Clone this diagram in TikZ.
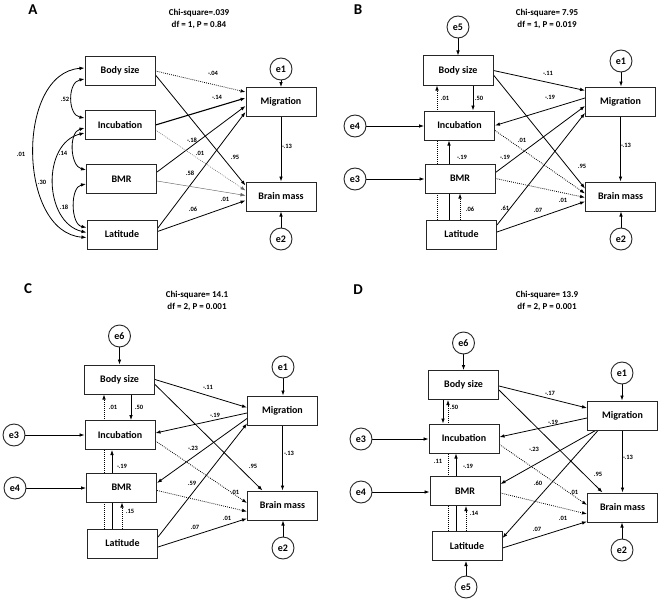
\documentclass[tikz,border=0pt]{standalone}
\usepackage{fontspec}
\setmainfont{Carlito}
\usetikzlibrary{arrows.meta,calc,backgrounds}
\begin{document}
\begin{tikzpicture}[x=1pt,y=-1pt,
  box/.style={draw=black!85, line width=1pt, fill=white, minimum width=70pt, minimum height=29pt, inner sep=0pt, font=\bfseries\fontsize{10}{11}\selectfont},
  err/.style={circle, draw=black!85, line width=0.9pt, fill=white, minimum size=22pt, inner sep=0pt, font=\bfseries\fontsize{10}{11}\selectfont},
  pth/.style={-{Latex[length=5pt,width=3.6pt]}, line width=0.8pt},
  dpth/.style={pth, dash pattern=on 0.8pt off 1.2pt},
  thin gray/.style={pth, line width=0.45pt, black!60},
  cov/.style={{Latex[length=5pt,width=3.6pt]}-{Latex[length=5pt,width=3.6pt]}, line width=0.8pt},
  lab/.style={inner sep=0pt, font=\bfseries\fontsize{6.5}{7}\selectfont},
  chi/.style={align=center, inner sep=0pt, font=\bfseries\fontsize{9}{12}\selectfont},
  letter/.style={inner sep=0pt, font=\bfseries\fontsize{15}{16}\selectfont}]
\useasboundingbox (0,0) rectangle (661,602);

% ================= Panel A =================
\node[letter] (A-let) at (33,10) {A};
\node[chi] (A-chi) at (199,19) {Chi-square=.039\\df = 1, P = 0.84};
\node[box] (A-bs) at (120,71) {Body size};
\node[box] (A-inc) at (120,125) {Incubation};
\node[box] (A-bmr) at (121.5,179) {BMR};
\node[box] (A-lat) at (122,234.5) {Latitude};
\node[box] (A-mig) at (281,102) {Migration};
\node[box] (A-bm) at (281,196.5) {Brain mass};
\node[err] (A-e1) at (281,69) {e1};
\node[err] (A-e2) at (281,239) {e2};
\begin{scope}[on background layer]
\draw[dpth] (A-bs.east) -- ($(A-mig.west)+(0,-10)$);
\draw[pth, line width=1.1pt] (A-inc.east) -- ($(A-mig.west)+(0,-4)$);
\draw[pth] ($(A-bmr.east)+(0,-7)$) -- ($(A-mig.west)+(0,4)$);
\draw[pth] ($(A-lat.east)+(0,-6)$) -- ($(A-mig.west)+(0,10)$);
\draw[pth] ($(A-bs.east)+(0,4)$) -- ($(A-bm.west)+(0,-11)$);
\draw[thin gray, dash pattern=on 0.8pt off 1.2pt, line width=0.6pt] ($(A-inc.east)+(0,5)$) -- ($(A-bm.west)+(0,-6)$);
\draw[thin gray] ($(A-bmr.east)+(0,2)$) -- ($(A-bm.west)+(0,-1)$);
\draw[pth] ($(A-lat.east)+(0,-3)$) -- ($(A-bm.west)+(0,4)$);
\draw[pth] (A-mig.south) -- (A-bm.north);
\draw[pth] (A-e1.south) -- (A-mig.north);
\draw[pth] (A-e2.north) -- (A-bm.south);
\draw[cov] ($(A-bs.west)+(0,-3)$) .. controls +(-69,5) and +(-69,-5) .. ($(A-lat.west)+(0,3)$);
\draw[cov] ($(A-bs.west)+(0,8)$) .. controls +(-17,3) and +(-17,-3) .. ($(A-inc.west)+(0,-7)$);
\draw[cov] ($(A-inc.west)+(0,3)$) .. controls +(-16,4) and +(-16,-4) .. ($(A-bmr.west)+(0,-9)$);
\draw[cov] ($(A-inc.west)+(0,8)$) .. controls +(-43,10) and +(-43,-10) .. ($(A-lat.west)+(0,-2)$);
\draw[cov] ($(A-bmr.west)+(0,5)$) .. controls +(-16,3) and +(-16,-3) .. ($(A-lat.west)+(0,-7)$);
\end{scope}
\node[lab] (A-l1) at (213,73) {-.04};
\node[lab] (A-l2) at (217,97) {-.14};
\node[lab] (A-l3) at (192,140) {-.18};
\node[lab] (A-l4) at (200,153) {.01};
\node[lab] (A-l5) at (235,157) {.95};
\node[lab] (A-l6) at (190,173) {.58};
\node[lab] (A-l7) at (225,199) {.01};
\node[lab] (A-l8) at (193,209) {.06};
\node[lab] (A-l9) at (287,146) {-.13};
\node[lab] (A-l10) at (65,99) {.52};
\node[lab] (A-l11) at (63,153) {.14};
\node[lab] (A-l12) at (42,182) {.30};
\node[lab] (A-l13) at (64,207) {.18};
\node[lab] (A-l14) at (21,154) {.01};

% ================= Panel B =================
\node[letter] (B-let) at (358,10) {B};
\node[chi] (B-chi) at (547,19) {Chi-square= 7.95\\df = 1, P = 0.019};
\node[box] (B-bs) at (458,70.5) {Body size};
\node[box] (B-inc) at (459.5,125.5) {Incubation};
\node[box] (B-bmr) at (460,178.5) {BMR};
\node[box] (B-lat) at (461.5,234.5) {Latitude};
\node[box] (B-mig) at (620.5,101.5) {Migration};
\node[box] (B-bm) at (620.5,196.5) {Brain mass};
\node[err] (B-e5) at (458,27) {e5};
\node[err] (B-e1) at (621,61) {e1};
\node[err] (B-e2) at (621,239) {e2};
\node[err] (B-e4) at (355,126) {e4};
\node[err] (B-e3) at (355,179) {e3};
\coordinate (B-v1) at (437,0);
\coordinate (B-v2) at (449,0);
\coordinate (B-v3) at (460,0);
\coordinate (B-v4) at (473,0);
\begin{scope}[on background layer]
\draw[pth] (B-e5.south) -- (B-e5.south |- B-bs.north);
\draw[pth] (B-e1.south) -- (B-e1.south |- B-mig.north);
\draw[pth] (B-e2.north) -- (B-e2.north |- B-bm.south);
\draw[pth] (B-e4.east) -- (B-e4.east -| B-inc.west);
\draw[pth] (B-e3.east) -- (B-e3.east -| B-bmr.west);
\draw[pth] (B-bs.south -| B-v4) -- (B-inc.north -| B-v4);
\draw[dpth] (B-lat.north -| B-v1) -- (B-bs.south -| B-v1);
\draw[pth] (B-lat.north -| B-v2) -- (B-inc.south -| B-v2);
\draw[dpth] (B-lat.north -| B-v3) -- (B-bmr.south -| B-v3);
\draw[pth] (B-bs.east) -- ($(B-mig.west)+(0,-11)$);
\draw[pth] ($(B-mig.west)+(0,-3.5)$) -- (B-inc.east);
\draw[pth] ($(B-bmr.east)+(0,-6)$) -- ($(B-mig.west)+(0,4.5)$);
\draw[pth] ($(B-lat.east)+(0,-9.5)$) -- ($(B-mig.west)+(0,11.5)$);
\draw[pth] ($(B-bs.east)+(0,4.5)$) -- ($(B-bm.west)+(0,-8)$);
\draw[dpth] ($(B-inc.east)+(0,5)$) -- ($(B-bm.west)+(0,-3)$);
\draw[dpth] (B-bmr.east) -- ($(B-bm.west)+(0,1)$);
\draw[pth] ($(B-lat.east)+(0,-2.5)$) -- ($(B-bm.west)+(0,5)$);
\draw[pth] (B-mig.south) -- (B-bm.north);
\end{scope}
\node[lab] (B-l1) at (548,73) {-.11};
\node[lab] (B-l2) at (550,97) {-.19};
\node[lab] (B-l3) at (522,140) {.01};
\node[lab] (B-l4) at (505,157) {-.19};
\node[lab] (B-l5) at (505,208) {.61};
\node[lab] (B-l6) at (582,166) {.95};
\node[lab] (B-l7) at (563,200) {.01};
\node[lab] (B-l8) at (538,210) {.07};
\node[lab] (B-l9) at (626,145) {-.13};
\node[lab] (B-l10) at (479,98) {.50};
\node[lab] (B-l11) at (445,98) {.01};
\node[lab] (B-l12) at (462,157) {-.19};
\node[lab] (B-l13) at (470,209) {.06};

% ================= Panel C =================
\node[letter] (C-let) at (28,289) {C};
\node[chi] (C-chi) at (197,301) {Chi-square= 14.1\\df = 2, P = 0.001};
\node[box] (C-bs) at (119.5,379.5) {Body size};
\node[box] (C-inc) at (120,435) {Incubation};
\node[box] (C-bmr) at (121.5,487.5) {BMR};
\node[box] (C-lat) at (122.5,543.5) {Latitude};
\node[box] (C-mig) at (282.5,410.5) {Migration};
\node[box] (C-bm) at (282.5,505.5) {Brain mass};
\node[err] (C-e6) at (119.5,336) {e6};
\node[err] (C-e1) at (283,367) {e1};
\node[err] (C-e2) at (283,548) {e2};
\node[err] (C-e3) at (14,435) {e3};
\node[err] (C-e4) at (15,488) {e4};
\coordinate (C-v1) at (104,0);
\coordinate (C-v2) at (112,0);
\coordinate (C-v3) at (122,0);
\coordinate (C-v4) at (131,0);
\begin{scope}[on background layer]
\draw[pth] (C-e6.south) -- (C-e6.south |- C-bs.north);
\draw[pth] (C-e1.south) -- (C-e1.south |- C-mig.north);
\draw[pth] (C-e2.north) -- (C-e2.north |- C-bm.south);
\draw[pth] (C-e3.east) -- (C-e3.east -| C-inc.west);
\draw[pth] (C-e4.east) -- (C-e4.east -| C-bmr.west);
\draw[pth] (C-bs.south -| C-v4) -- (C-inc.north -| C-v4);
\draw[dpth] (C-lat.north -| C-v1) -- (C-bs.south -| C-v1);
\draw[pth] (C-lat.north -| C-v2) -- (C-inc.south -| C-v2);
\draw[dpth] (C-lat.north -| C-v3) -- (C-bmr.south -| C-v3);
\draw[pth] (C-bs.east) -- ($(C-mig.west)+(0,-3)$);
\draw[pth] ($(C-mig.west)+(0,2.5)$) -- ($(C-inc.east)+(0,-2)$);
\draw[pth] ($(C-mig.west)+(0,8)$) -- ($(C-bmr.east)+(0,-4.5)$);
\draw[pth] ($(C-lat.east)+(0,-6.5)$) -- ($(C-mig.west)+(0,13)$);
\draw[pth] ($(C-bs.east)+(0,5)$) -- ($(C-bm.north)+(-20,0)$);
\draw[dpth] ($(C-inc.east)+(0,6)$) -- ($(C-bm.west)+(0,-2.5)$);
\draw[dpth] ($(C-bmr.east)+(0,3)$) -- ($(C-bm.west)+(0,6)$);
\draw[pth] ($(C-lat.east)+(0,3.5)$) -- ($(C-bm.west)+(0,13)$);
\draw[pth] (C-mig.south) -- (C-bm.north);
\end{scope}
\node[lab] (C-l1) at (208,387) {-.11};
\node[lab] (C-l2) at (215,415) {-.19};
\node[lab] (C-l3) at (193,448) {-.23};
\node[lab] (C-l4) at (253,466) {.95};
\node[lab] (C-l5) at (192,483) {.59};
\node[lab] (C-l6) at (235,492) {.01};
\node[lab] (C-l7) at (227,518) {.01};
\node[lab] (C-l8) at (195,527) {.07};
\node[lab] (C-l9) at (289,453) {-.13};
\node[lab] (C-l10) at (139,407) {.50};
\node[lab] (C-l11) at (113,407) {.01};
\node[lab] (C-l12) at (122,466) {-.19};
\node[lab] (C-l13) at (130,511) {.15};

% ================= Panel D =================
\node[letter] (D-let) at (358,290) {D};
\node[chi] (D-chi) at (547,301) {Chi-square= 13.9\\df = 2, P = 0.001};
\node[box] (D-bs) at (463.5,385) {Body size};
\node[box] (D-inc) at (464,438.5) {Incubation};
\node[box] (D-bmr) at (465,491) {BMR};
\node[box] (D-lat) at (467,546) {Latitude};
\node[box] (D-mig) at (622.5,415.5) {Migration};
\node[box] (D-bm) at (622.5,507.5) {Brain mass};
\node[err] (D-e6) at (463.5,343) {e6};
\node[err] (D-e1) at (622,373) {e1};
\node[err] (D-e2) at (622,550) {e2};
\node[err] (D-e3) at (361,439) {e3};
\node[err] (D-e4) at (361,492) {e4};
\node[err] (D-e5) at (466,587) {e5};
\coordinate (D-v1) at (448,0);
\coordinate (D-v2) at (456,0);
\coordinate (D-v3) at (466,0);
\coordinate (D-v4) at (443,0);
\begin{scope}[on background layer]
\draw[pth] (D-e6.south) -- (D-e6.south |- D-bs.north);
\draw[pth] (D-e1.south) -- (D-e1.south |- D-mig.north);
\draw[pth] (D-e2.north) -- (D-e2.north |- D-bm.south);
\draw[pth] (D-e3.east) -- (D-e3.east -| D-inc.west);
\draw[pth] (D-e4.east) -- (D-e4.east -| D-bmr.west);
\draw[pth] (D-e5.north) -- (D-e5.north |- D-lat.south);
\draw[pth] (D-bs.south -| D-v4) -- (D-inc.north -| D-v4);
\draw[dpth] (D-lat.north -| D-v1) -- (D-bs.south -| D-v1);
\draw[pth] (D-lat.north -| D-v2) -- (D-inc.south -| D-v2);
\draw[dpth] (D-lat.north -| D-v3) -- (D-bmr.south -| D-v3);
\draw[pth] ($(D-bs.east)+(0,1)$) -- ($(D-mig.west)+(0,-7.5)$);
\draw[pth] ($(D-mig.west)+(0,2.5)$) -- ($(D-inc.east)+(0,-1.5)$);
\draw[pth] ($(D-mig.south)+(-27,0)$) -- ($(D-bmr.east)+(0,-7)$);
\draw[pth] ($(D-mig.south)+(-24.5,0)$) -- ($(D-lat.east)+(0,-8)$);
\draw[pth] ($(D-bs.east)+(0,5)$) -- ($(D-bm.north)+(-20,0)$);
\draw[dpth] ($(D-inc.east)+(0,6)$) -- ($(D-bm.west)+(0,-2.5)$);
\draw[dpth] ($(D-bmr.east)+(0,2)$) -- ($(D-bm.west)+(0,6.5)$);
\draw[pth] ($(D-lat.east)+(0,2)$) -- ($(D-bm.west)+(0,14)$);
\draw[pth] (D-mig.south) -- (D-bm.north);
\end{scope}
\node[lab] (D-l1) at (550,393) {-.17};
\node[lab] (D-l2) at (553,422) {-.19};
\node[lab] (D-l3) at (534,449) {-.23};
\node[lab] (D-l4) at (538,483) {.60};
\node[lab] (D-l5) at (574,492) {.01};
\node[lab] (D-l6) at (598,474) {.95};
\node[lab] (D-l7) at (563,518) {.01};
\node[lab] (D-l8) at (537,529) {.07};
\node[lab] (D-l9) at (628,457) {-.13};
\node[lab] (D-l10) at (454,407) {.50};
\node[lab] (D-l11) at (438,461) {.11};
\node[lab] (D-l12) at (468,466) {-.19};
\node[lab] (D-l13) at (474,513) {.14};
\end{tikzpicture}
\end{document}
